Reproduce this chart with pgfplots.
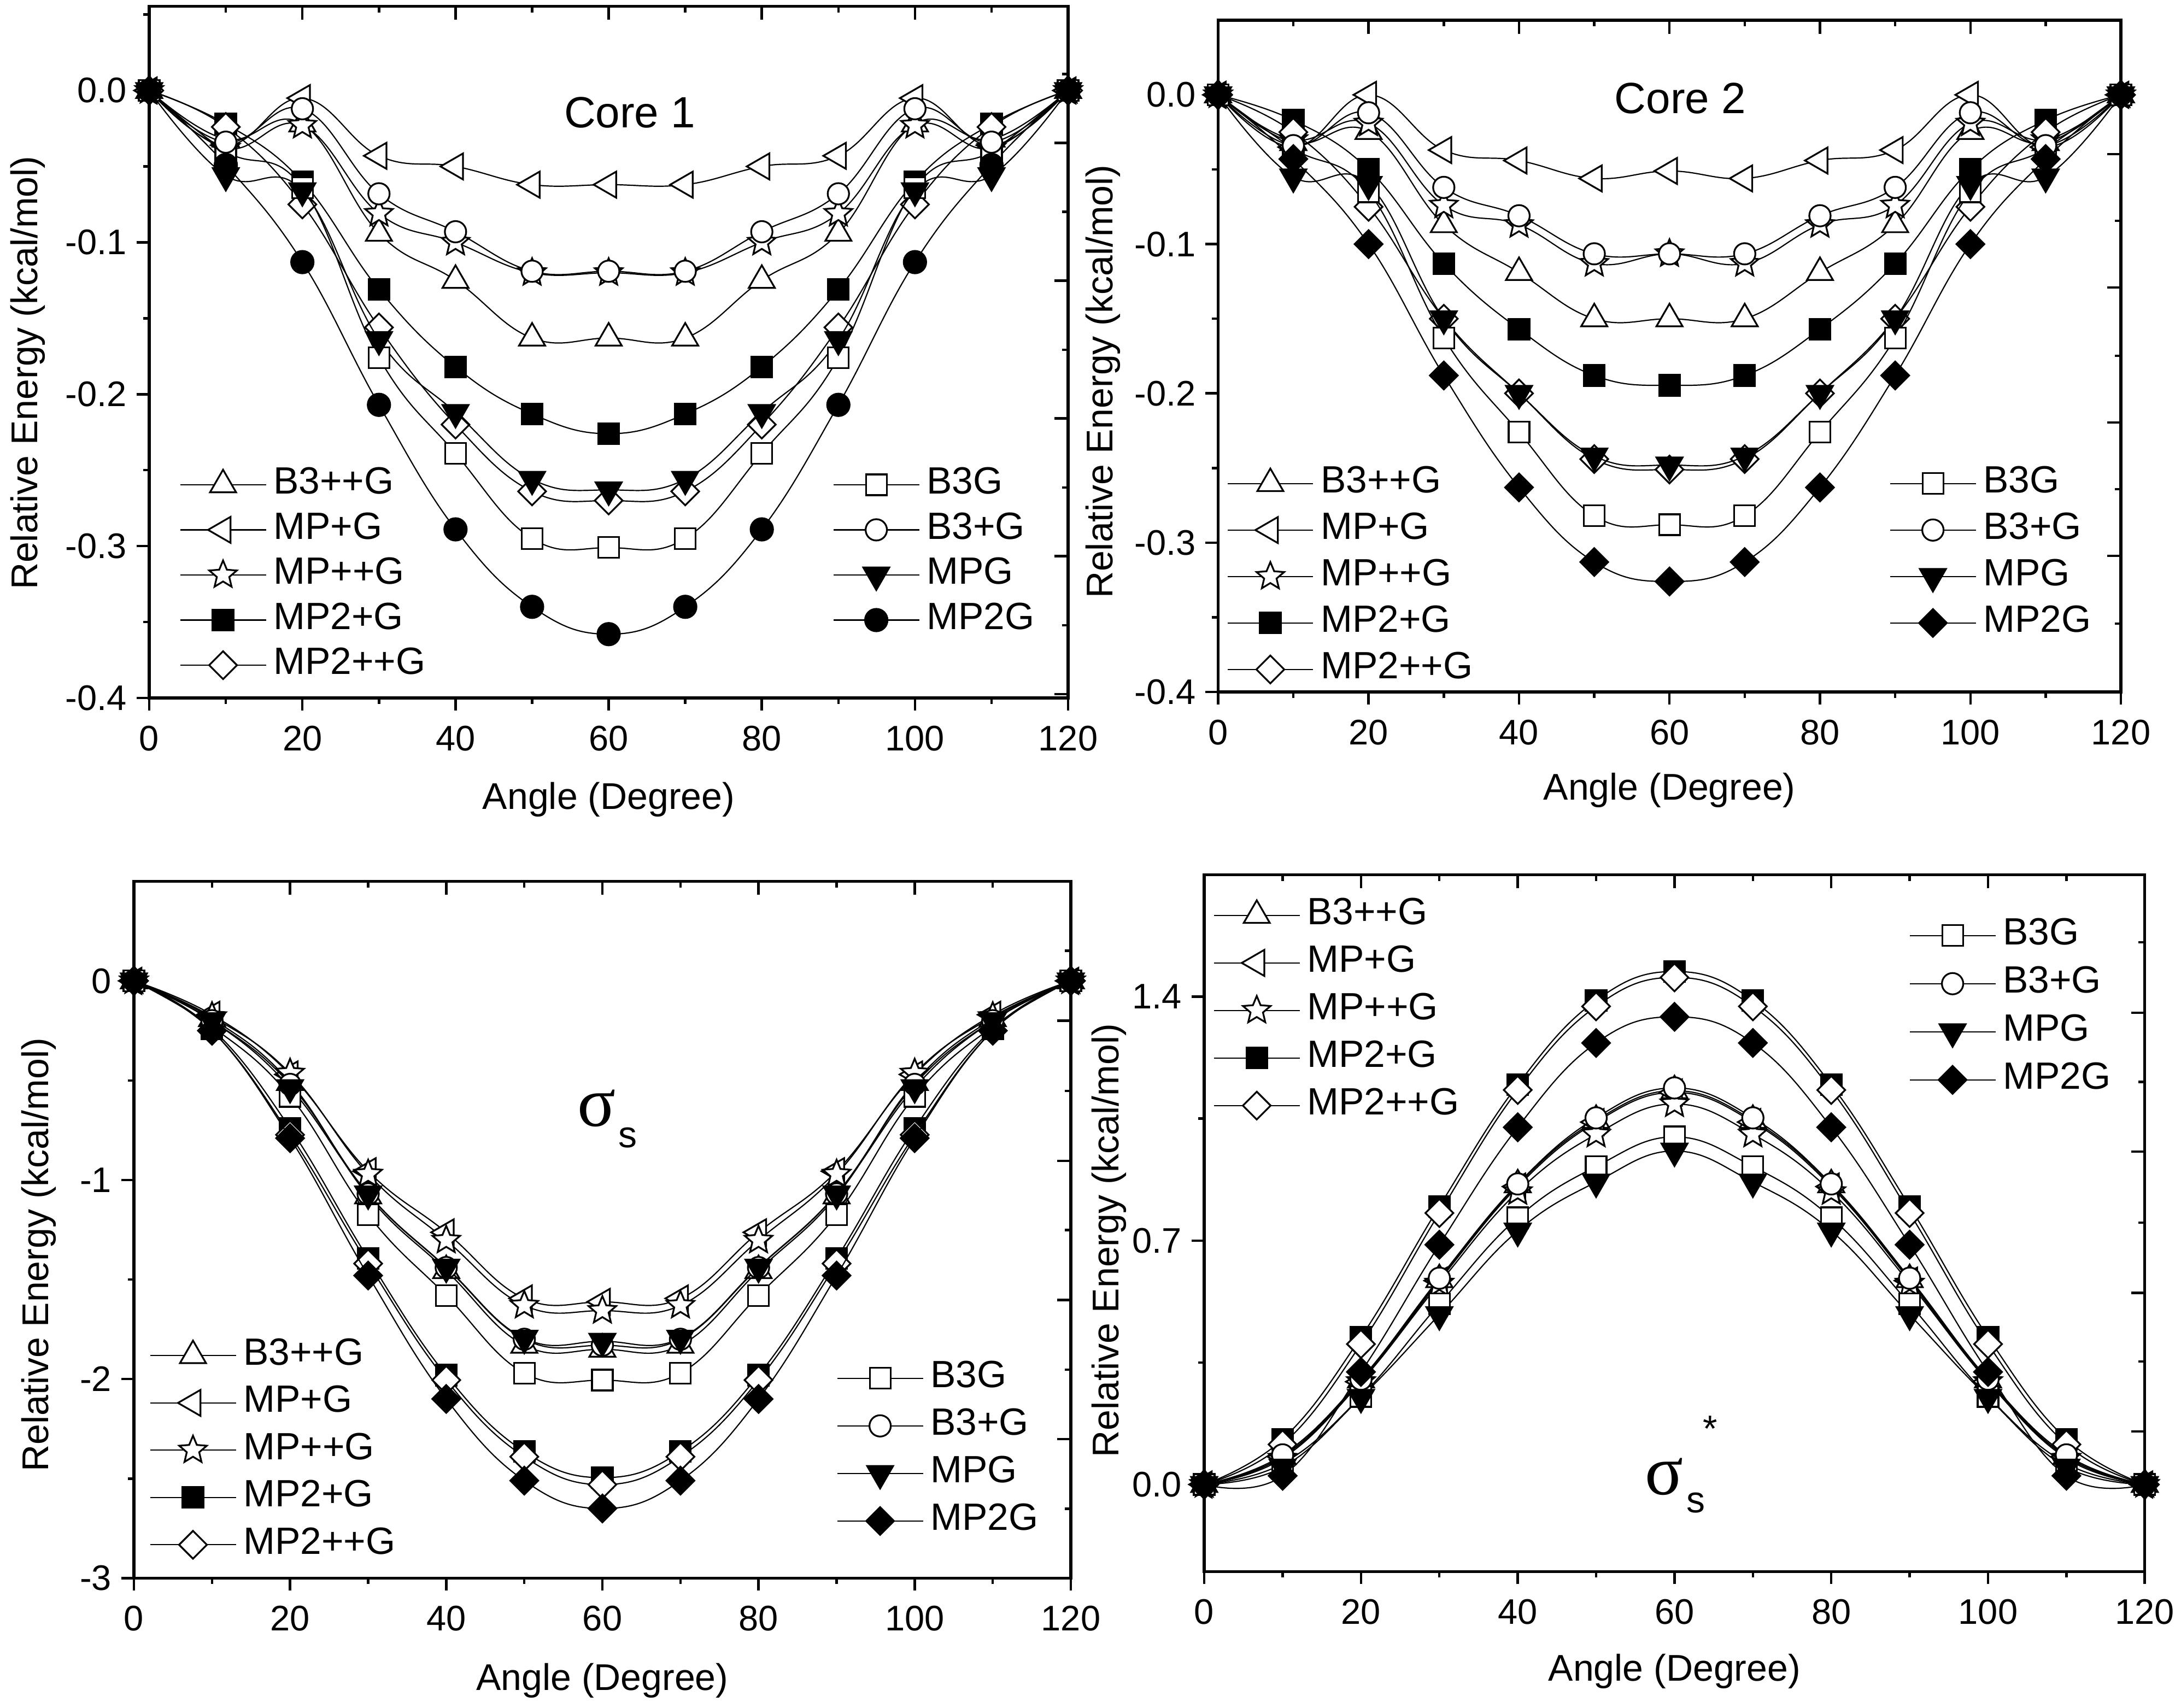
\documentclass[border=0pt]{standalone}
\usepackage{fontspec}
\setmainfont{Liberation Sans}
\newfontfamily\sigmafont{Liberation Serif}
\usepackage{pgfplots}
\usepackage{pgfplotstable}
\pgfplotsset{compat=1.18}
\newcommand\tickfont{\fontsize{6.5pt}{7.5pt}\selectfont}
\newcommand\labfont{\fontsize{6.8pt}{8pt}\selectfont}
\newcommand\legfont{\fontsize{6.95pt}{8pt}\selectfont}
\newcommand\corefont{\fontsize{8pt}{9pt}\selectfont}

\pgfdeclareplotmark{ostar}{%
  \pgfpathmoveto{\pgfqpointpolar{90}{\pgfplotmarksize}}%
  \pgfpathlineto{\pgfqpointpolar{126}{0.45\pgfplotmarksize}}%
  \pgfpathlineto{\pgfqpointpolar{162}{\pgfplotmarksize}}%
  \pgfpathlineto{\pgfqpointpolar{198}{0.45\pgfplotmarksize}}%
  \pgfpathlineto{\pgfqpointpolar{234}{\pgfplotmarksize}}%
  \pgfpathlineto{\pgfqpointpolar{270}{0.45\pgfplotmarksize}}%
  \pgfpathlineto{\pgfqpointpolar{306}{\pgfplotmarksize}}%
  \pgfpathlineto{\pgfqpointpolar{342}{0.45\pgfplotmarksize}}%
  \pgfpathlineto{\pgfqpointpolar{18}{\pgfplotmarksize}}%
  \pgfpathlineto{\pgfqpointpolar{54}{0.45\pgfplotmarksize}}%
  \pgfpathclose
  \pgfusepathqfillstroke
}

% Core 1
\pgfplotstableread{
x   B3ppG  MPpG   MPppG  MPtpG  MPtppG B3G    B3pG   MPG    MPtG
0   0      0      0      0      0      0      0      0      0
10  -0.032 -0.036 -0.038 -0.022 -0.024 -0.040 -0.034 -0.056 -0.049
20  -0.022 -0.005 -0.023 -0.060 -0.075 -0.064 -0.012 -0.066 -0.113
30  -0.094 -0.043 -0.081 -0.131 -0.156 -0.176 -0.068 -0.164 -0.207
40  -0.125 -0.050 -0.100 -0.182 -0.220 -0.239 -0.093 -0.212 -0.289
50  -0.163 -0.062 -0.120 -0.213 -0.264 -0.295 -0.119 -0.256 -0.340
60  -0.163 -0.062 -0.120 -0.226 -0.270 -0.301 -0.119 -0.263 -0.358
70  -0.163 -0.062 -0.120 -0.213 -0.264 -0.295 -0.119 -0.256 -0.340
80  -0.125 -0.050 -0.100 -0.182 -0.220 -0.239 -0.093 -0.212 -0.289
90  -0.094 -0.043 -0.081 -0.131 -0.156 -0.176 -0.068 -0.164 -0.207
100 -0.022 -0.005 -0.023 -0.060 -0.075 -0.064 -0.012 -0.066 -0.113
110 -0.032 -0.036 -0.038 -0.022 -0.024 -0.040 -0.034 -0.056 -0.049
120 0      0      0      0      0      0      0      0      0
}\dA
% Core 2
\pgfplotstableread{
x   B3ppG   MPpG   MPppG   MPtpG   MPtppG B3G    B3pG    MPG    MPtG
0   0       0      0       0       0      0      0       0      0
10  -0.032  -0.035 -0.030  -0.017  -0.025 -0.036 -0.034  -0.055 -0.043
20  -0.0245 0.000  -0.019  -0.050  -0.075 -0.065 -0.012  -0.060 -0.100
30  -0.087  -0.037 -0.074  -0.113  -0.150 -0.163 -0.062  -0.150 -0.188
40  -0.119  -0.044 -0.087  -0.157  -0.200 -0.226 -0.081  -0.200 -0.263
50  -0.150  -0.056 -0.113  -0.188  -0.244 -0.282 -0.1065 -0.242 -0.313
60  -0.150  -0.051 -0.1065 -0.1946 -0.251 -0.288 -0.1065 -0.248 -0.326
70  -0.150  -0.056 -0.113  -0.188  -0.244 -0.282 -0.1065 -0.242 -0.313
80  -0.119  -0.044 -0.087  -0.157  -0.200 -0.226 -0.081  -0.200 -0.263
90  -0.087  -0.037 -0.074  -0.113  -0.150 -0.163 -0.062  -0.150 -0.188
100 -0.0245 0.000  -0.019  -0.050  -0.075 -0.065 -0.012  -0.060 -0.100
110 -0.032  -0.035 -0.030  -0.017  -0.025 -0.036 -0.034  -0.055 -0.043
120 0       0      0       0       0      0      0       0      0
}\dB
% sigma_s
\pgfplotstableread{
x   B3ppG  MPpG   MPppG  MPtpG  MPtppG B3G    B3pG   MPG    MPtG
0   0      0      0      0      0      0      0      0      0
10  -0.19  -0.17  -0.18  -0.24  -0.25  -0.23  -0.20  -0.20  -0.25
20  -0.51  -0.47  -0.464 -0.74  -0.773 -0.58  -0.52  -0.536 -0.79
30  -1.08  -0.956 -0.971 -1.394 -1.42  -1.175 -1.07  -1.07  -1.48
40  -1.455 -1.263 -1.303 -1.98  -2.005 -1.58  -1.44  -1.438 -2.10
50  -1.83  -1.595 -1.63  -2.364 -2.39  -1.97  -1.80  -1.795 -2.51
60  -1.85  -1.612 -1.656 -2.495 -2.53  -2.005 -1.83  -1.81  -2.65
70  -1.83  -1.595 -1.63  -2.364 -2.39  -1.97  -1.80  -1.795 -2.51
80  -1.455 -1.263 -1.303 -1.98  -2.005 -1.58  -1.44  -1.438 -2.10
90  -1.08  -0.956 -0.971 -1.394 -1.42  -1.175 -1.07  -1.07  -1.48
100 -0.51  -0.47  -0.464 -0.74  -0.773 -0.58  -0.52  -0.536 -0.79
110 -0.19  -0.17  -0.18  -0.24  -0.25  -0.23  -0.20  -0.20  -0.25
120 0      0      0      0      0      0      0      0      0
}\dC
% sigma_s*
\pgfplotstableread{
x   B3ppG  MPpG   MPppG  MPtpG  MPtppG B3G    B3pG   MPG    MPtG
0   0      0      0      0      0      0      0      0      0
10  0.080  0.080  0.075  0.130  0.115  0.060  0.085  0.050  0.025
20  0.300  0.295  0.295  0.423  0.403  0.2526 0.302  0.250  0.323
30  0.588  0.585  0.5775 0.798  0.779  0.518  0.592  0.4875 0.688
40  0.860  0.855  0.840  1.147  1.132  0.7655 0.8625 0.7275 1.025
50  1.045  1.040  1.005  1.389  1.372  0.9125 1.052  0.868  1.267
60  1.130  1.125  1.092  1.472  1.455  0.9975 1.138  0.957  1.342
70  1.045  1.040  1.005  1.389  1.372  0.9125 1.052  0.868  1.267
80  0.860  0.855  0.840  1.147  1.132  0.7655 0.8625 0.7275 1.025
90  0.588  0.585  0.5775 0.798  0.779  0.518  0.592  0.4875 0.688
100 0.300  0.295  0.295  0.423  0.403  0.2526 0.302  0.250  0.323
110 0.080  0.080  0.075  0.130  0.115  0.060  0.085  0.050  0.025
120 0      0      0      0      0      0      0      0      0
}\dD

\pgfplotsset{
  base/.style={scale only axis, clip=false, xmin=0, xmax=120,
    axis line style={line width=0.55pt, black},
    every tick/.style={line width=0.45pt, black},
    legend image code/.code={\draw[mark repeat=2,mark phase=2] plot coordinates {(0pt,0pt)(7.8pt,0pt)(15.6pt,0pt)};},
    every axis plot/.append style={black, line width=0.22pt, smooth, tension=0.7},
  },
  axA/.style={base, xtick pos=left, ytick pos=left, tick align=outside,
    major tick length=2.3pt, minor tick length=1.1pt,
    xtick={0,20,40,60,80,100,120}, xticklabels={0,20,40,60,80,100,120},
    minor xtick={10,30,50,70,90,110},
    tick label style={font=\tickfont, inner sep=0pt},
    xticklabel shift=2.6pt, yticklabel shift=1.6pt,
  },
  axB/.style={base, xtick pos=right, ytick pos=right, tick align=inside,
    major tick length=2.5pt, minor tick length=1.15pt,
    xtick={0,20,40,60,80,100,120}, minor xtick={10,30,50,70,90,110},
    xticklabels={}, yticklabels={},
  },
  leg/.style n args={3}{legend style={draw=none, fill=none, inner sep=0pt, outer sep=0pt,
     font=\legfont, row sep=#3, column sep=1.3pt, cells={anchor=west},
     nodes={inner sep=0pt},
     at={(axis description cs:#1,#2)}, anchor=north west}},
  labs/.style n args={3}{
     every axis x label/.style={at={(axis description cs:0.5,0)}, yshift=-#1, anchor=base, font=\labfont},
     every axis y label/.style={at={(axis description cs:0,#3)}, xshift=-#2, rotate=90, anchor=base, font=\labfont},
     xlabel={Angle (Degree)}, ylabel={Relative Energy (kcal/mol)}},
  sB3ppG/.style={mark=triangle*, mark size=2.75pt, mark options={fill=white, line width=0.32pt}},
  sMPpG/.style={mark=triangle*, mark size=2.75pt, mark options={fill=white, rotate=90, line width=0.32pt}},
  sMPppG/.style={mark=ostar, mark size=2.65pt, mark options={fill=white, line width=0.32pt}},
  sMPtpG/.style={mark=square*, mark size=1.9pt, mark options={fill=black, line width=0.32pt}},
  sMPtppG/.style={mark=square*, mark size=1.8pt, mark options={fill=white, rotate=45, line width=0.32pt}},
  sB3G/.style={mark=square*, mark size=1.9pt, mark options={fill=white, line width=0.32pt}},
  sB3pG/.style={mark=*, mark size=1.95pt, mark options={fill=white, line width=0.32pt}},
  sMPG/.style={mark=triangle*, mark size=2.75pt, mark options={fill=black, rotate=180, line width=0.32pt}},
  sMPtGc/.style={mark=*, mark size=2.05pt, mark options={fill=black, line width=0.32pt}},
  sMPtGd/.style={mark=square*, mark size=1.8pt, mark options={fill=black, rotate=45, line width=0.32pt}},
}

\begin{document}
\begin{tikzpicture}
\useasboundingbox (0,0) rectangle (399pt,312.5pt);

%================ Panel 1 =================
\begin{axis}[axA, at={(27.3pt,184.8pt)}, anchor=south west, width=168.1pt, height=126.55pt,
  ymin=-0.4, ymax=0.0555,
  ytick={-0.4,-0.3,-0.2,-0.1,0}, yticklabels={-0.4,-0.3,-0.2,-0.1,0.0},
  minor ytick={-0.35,-0.25,-0.15,-0.05,0.05},
  labs={20.4pt}{20.4pt}{0.47},
  leg={0.0333}{0.3333}{1.9pt}]
\addplot[sB3ppG] table[x=x,y=B3ppG]{\dA}; \addlegendentry{B3++G}
\addplot[sMPpG] table[x=x,y=MPpG]{\dA}; \addlegendentry{MP+G}
\addplot[sMPppG] table[x=x,y=MPppG]{\dA}; \addlegendentry{MP++G}
\addplot[sMPtpG] table[x=x,y=MPtpG]{\dA}; \addlegendentry{MP2+G}
\addplot[sMPtppG] table[x=x,y=MPtppG]{\dA}; \addlegendentry{MP2++G}
\node[font=\corefont] at (axis description cs:0.523,0.846) {Core 1};
\end{axis}
\begin{axis}[axB, at={(27.3pt,184.8pt)}, anchor=south west, width=168.1pt, height=126.55pt,
  ymin=-0.4, ymax=0.0555,
  ytick={-0.0346,-0.1253,-0.216,-0.3067,-0.3975},
  minor ytick={0.0108,-0.0799,-0.1707,-0.2614,-0.3521},
  leg={0.7442}{0.3333}{1.9pt}]
\addplot[sB3G] table[x=x,y=B3G]{\dA}; \addlegendentry{B3G}
\addplot[sB3pG] table[x=x,y=B3pG]{\dA}; \addlegendentry{B3+G}
\addplot[sMPG] table[x=x,y=MPG]{\dA}; \addlegendentry{MPG}
\addplot[sMPtGc] table[x=x,y=MPtG]{\dA}; \addlegendentry{MP2G}
\end{axis}

%================ Panel 2 =================
\begin{axis}[axA, at={(222.84pt,185.9pt)}, anchor=south west, width=165.16pt, height=122.9pt,
  ymin=-0.4, ymax=0.05,
  ytick={-0.4,-0.3,-0.2,-0.1,0}, yticklabels={-0.4,-0.3,-0.2,-0.1,0.0},
  minor ytick={-0.35,-0.25,-0.15,-0.05},
  labs={19.8pt}{19.3pt}{0.462},
  leg={0.010}{0.336}{2.15pt}]
\addplot[sB3ppG] table[x=x,y=B3ppG]{\dB}; \addlegendentry{B3++G}
\addplot[sMPpG] table[x=x,y=MPpG]{\dB}; \addlegendentry{MP+G}
\addplot[sMPppG] table[x=x,y=MPppG]{\dB}; \addlegendentry{MP++G}
\addplot[sMPtpG] table[x=x,y=MPtpG]{\dB}; \addlegendentry{MP2+G}
\addplot[sMPtppG] table[x=x,y=MPtppG]{\dB}; \addlegendentry{MP2++G}
\node[font=\corefont] at (axis description cs:0.512,0.8837) {Core 2};
\end{axis}
\begin{axis}[axB, at={(222.84pt,185.9pt)}, anchor=south west, width=165.16pt, height=122.9pt,
  ymin=-0.4, ymax=0.05,
  ytick={-0.0397,-0.129,-0.2195,-0.3089},
  minor ytick={-0.0844,-0.1748,-0.2642,-0.3543},
  leg={0.7439}{0.336}{2.15pt}]
\addplot[sB3G] table[x=x,y=B3G]{\dB}; \addlegendentry{B3G}
\addplot[sB3pG] table[x=x,y=B3pG]{\dB}; \addlegendentry{B3+G}
\addplot[sMPG] table[x=x,y=MPG]{\dB}; \addlegendentry{MPG}
\addplot[sMPtGd] table[x=x,y=MPtG]{\dB}; \addlegendentry{MP2G}
\end{axis}

%================ Panel 3 =================
\begin{axis}[axA, at={(24.5pt,23.75pt)}, anchor=south west, width=171.4pt, height=127.5pt,
  ymin=-3, ymax=0.5,
  ytick={-3,-2,-1,0}, yticklabels={-3,-2,-1,0},
  minor ytick={-2.5,-1.5,-0.5},
  labs={20.5pt}{15.7pt}{0.464},
  leg={0.0169}{0.3443}{2.3pt}]
\addplot[sB3ppG] table[x=x,y=B3ppG]{\dC}; \addlegendentry{B3++G}
\addplot[sMPpG] table[x=x,y=MPpG]{\dC}; \addlegendentry{MP+G}
\addplot[sMPppG] table[x=x,y=MPppG]{\dC}; \addlegendentry{MP++G}
\addplot[sMPtpG] table[x=x,y=MPtpG]{\dC}; \addlegendentry{MP2+G}
\addplot[sMPtppG] table[x=x,y=MPtppG]{\dC}; \addlegendentry{MP2++G}
\node[font=\fontsize{13pt}{14pt}\sigmafont] at (axis description cs:0.4936,0.674) {σ};
\node[font=\fontsize{6.8pt}{8pt}\selectfont] at (axis description cs:0.527,0.6317) {s};
\end{axis}
\begin{axis}[axB, at={(24.5pt,23.75pt)}, anchor=south west, width=171.4pt, height=127.5pt,
  ymin=-3, ymax=0.5,
  ytick={-0.2,-0.904,-1.603,-2.301},
  minor ytick={0.151,-0.553,-1.252,-1.953,-2.652},
  leg={0.7503}{0.3117}{2.35pt}]
\addplot[sB3G] table[x=x,y=B3G]{\dC}; \addlegendentry{B3G}
\addplot[sB3pG] table[x=x,y=B3pG]{\dC}; \addlegendentry{B3+G}
\addplot[sMPG] table[x=x,y=MPG]{\dC}; \addlegendentry{MPG}
\addplot[sMPtGd] table[x=x,y=MPtG]{\dC}; \addlegendentry{MP2G}
\end{axis}

%================ Panel 4 =================
\begin{axis}[axA, at={(220.3pt,24.95pt)}, anchor=south west, width=172.07pt, height=127.52pt,
  ymin=-0.25, ymax=1.75,
  ytick={0,0.7,1.4}, yticklabels={0.0,0.7,1.4},
  minor ytick={0.35,1.05},
  labs={20pt}{15.7pt}{0.475},
  leg={0.0099}{0.9665}{2.35pt}]
\addplot[sB3ppG] table[x=x,y=B3ppG]{\dD}; \addlegendentry{B3++G}
\addplot[sMPpG] table[x=x,y=MPpG]{\dD}; \addlegendentry{MP+G}
\addplot[sMPppG] table[x=x,y=MPppG]{\dD}; \addlegendentry{MP++G}
\addplot[sMPtpG] table[x=x,y=MPtpG]{\dD}; \addlegendentry{MP2+G}
\addplot[sMPtppG] table[x=x,y=MPtppG]{\dD}; \addlegendentry{MP2++G}
\node[font=\fontsize{13pt}{14pt}\sigmafont] at (axis description cs:0.4893,0.136) {σ};
\node[font=\fontsize{6.8pt}{8pt}\selectfont] at (axis description cs:0.523,0.0984) {s};
\node[font=\fontsize{6.8pt}{8pt}\selectfont] at (axis description cs:0.538,0.205) {*};
\end{axis}
\begin{axis}[axB, at={(220.3pt,24.95pt)}, anchor=south west, width=172.07pt, height=127.52pt,
  ymin=-0.25, ymax=1.75,
  ytick={1.354,0.955,0.550,0.152},
  minor ytick={1.556,1.155,0.751,0.353},
  leg={0.7497}{0.9375}{2.45pt}]
\addplot[sB3G] table[x=x,y=B3G]{\dD}; \addlegendentry{B3G}
\addplot[sB3pG] table[x=x,y=B3pG]{\dD}; \addlegendentry{B3+G}
\addplot[sMPG] table[x=x,y=MPG]{\dD}; \addlegendentry{MPG}
\addplot[sMPtGd] table[x=x,y=MPtG]{\dD}; \addlegendentry{MP2G}
\end{axis}
\end{tikzpicture}
\end{document}
